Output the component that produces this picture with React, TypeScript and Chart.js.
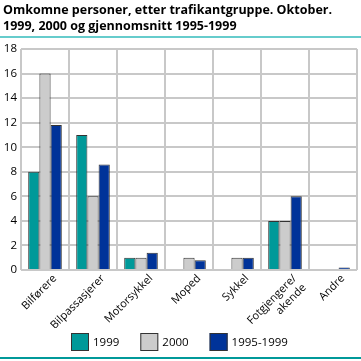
import React, { useEffect, useRef } from "react";
import { Chart, registerables } from "chart.js";
Chart.register(...registerables);

const titleLines = ["Omkomne personer, etter trafikantgruppe. Oktober.", "1999, 2000 og gjennomsnitt 1995-1999"];
const categories = [["Bilførere"], ["Bilpassasjerer"], ["Motorsykkel"], ["Moped"], ["Sykkel"], ["Fotgjengere/", "akende"], ["Andre"]];
const seriesNames = ["1999", "2000", "1995-1999"];
const values1999 = [8, 11, 1, 0, 0, 4, 0];
const values2000 = [16, 6, 1, 1, 1, 4, 0];
const valuesAvg = [11.8, 8.6, 1.4, 0.8, 1, 6, 0.2];
const colors = ["#009999", "#cccccc", "#003399"];

const FONT = "'Open Sans'";

const decor = {
  id: "decor",
  afterDraw(chart: any) {
    const ctx = chart.ctx;
    ctx.save();
    // title
    ctx.fillStyle = "#000";
    ctx.font = `bold 12.5px ${FONT}`;
    ctx.textBaseline = "alphabetic";
    ctx.textAlign = "left";
    ctx.fillText(titleLines[0], 3, 14);
    ctx.fillText(titleLines[1], 3, 30);
    ctx.fillStyle = "#66cccc";
    ctx.fillRect(0, 36, 361, 2);
    ctx.fillStyle = "#009999";
    ctx.fillRect(0, 357, 361, 2);
    // legend
    ctx.font = `11.5px ${FONT}`;
    const box = 18, gapText = 4, gapItem = 21;
    const items = chart.data.datasets.map((d: any) => ({ label: d.label, color: d.backgroundColor, w: ctx.measureText(d.label).width }));
    const total = items.reduce((s: number, it: any) => s + box + gapText + it.w, 0) + gapItem * (items.length - 1);
    let x = Math.round((361 - total) / 2) - 1;
    const y = 333;
    ctx.textBaseline = "middle";
    items.forEach((it: any) => {
      ctx.fillStyle = it.color;
      ctx.fillRect(x, y, box, box);
      ctx.strokeStyle = "#333333";
      ctx.lineWidth = 1;
      ctx.strokeRect(x + 0.5, y + 0.5, box - 1, box - 1);
      ctx.fillStyle = "#000";
      ctx.fillText(it.label, x + box + gapText, y + box / 2 + 1);
      x += box + gapText + it.w + gapItem;
    });
    ctx.restore();
  },
};

export default function App() {
  const ref = useRef<HTMLCanvasElement>(null);
  useEffect(() => {
    document.body.style.margin = "0";
    const chart = new Chart(ref.current!, {
      type: "bar",
      data: {
        labels: categories as any,
        datasets: [values1999, values2000, valuesAvg].map((d, i) => ({
          label: seriesNames[i],
          data: d,
          backgroundColor: colors[i],
          borderColor: "#333333",
          borderWidth: 1,
          barPercentage: 1,
          categoryPercentage: 0.7,
          minBarLength: 1,
        })),
      },
      options: {
        animation: false,
        responsive: false,
        layout: { padding: { top: 49, right: 4, left: 0, bottom: 33 } },
        plugins: {
          title: { display: false },
          tooltip: { enabled: false },
          legend: { display: false },
        },
        scales: {
          x: {
            afterFit: (s: any) => { s.height = 58; },
            grid: { color: "#c8c8c8", lineWidth: 2, offset: true, drawTicks: false },
            border: { display: false },
            ticks: { color: "#000", font: { family: FONT, size: 11 }, maxRotation: 45, minRotation: 45, padding: 2, labelOffset: 10 },
          },
          y: {
            min: 0,
            max: 18,
            afterFit: (s: any) => { s.width = 21; },
            grid: { color: "#c8c8c8", lineWidth: 2, drawTicks: false },
            border: { display: false },
            ticks: { stepSize: 2, color: "#000", font: { family: FONT, size: 11.5 }, padding: 4 },
          },
        },
      },
      plugins: [decor],
    });
    return () => chart.destroy();
  }, []);
  return <canvas ref={ref} width={361} height={361} style={{ display: "block" }} />;
}
